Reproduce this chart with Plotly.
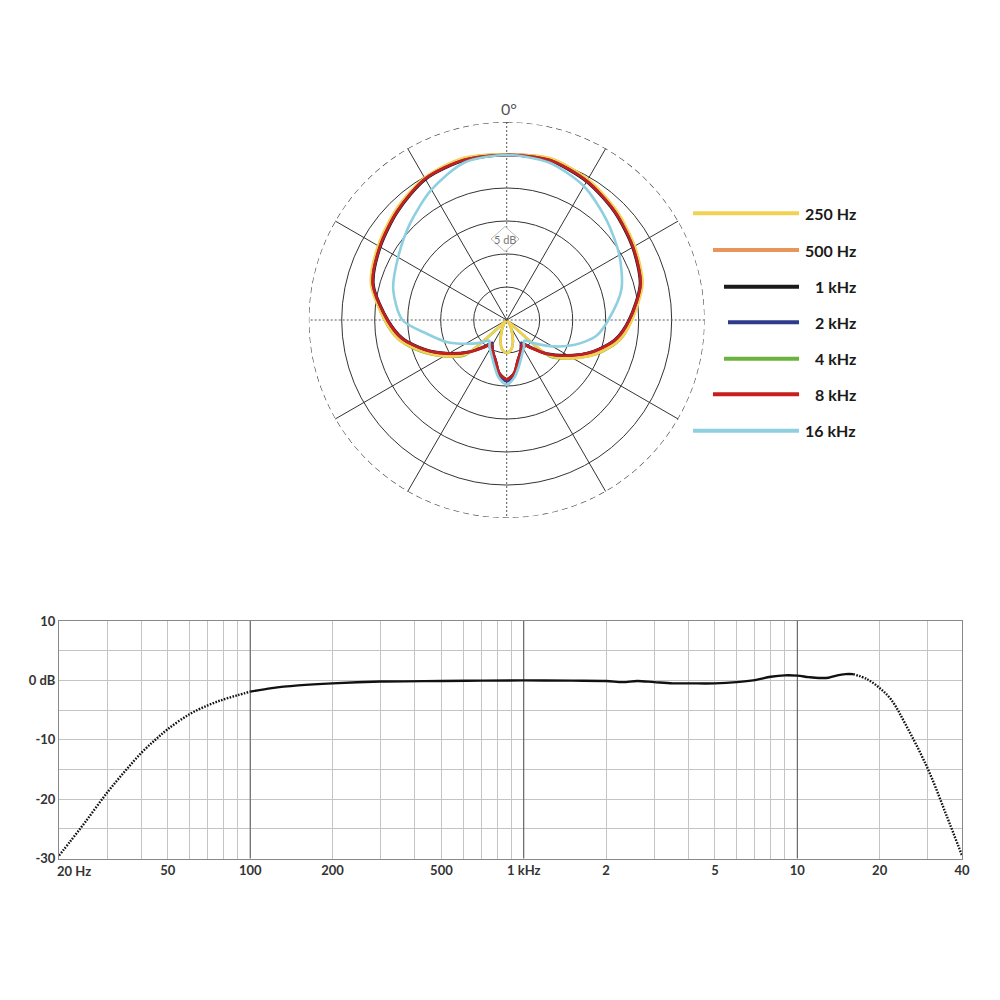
import numpy as np
import plotly.graph_objects as go

# ---------------- Polar pattern data (dB, 0 dB on axis) ----------------
THETA = [0, 15, 30, 45, 60, 75, 90, 100, 110, 120, 130, 140, 147, 155, 165, 172, 180,
         188, 195, 205, 213, 220, 230, 240, 250, 260, 270, 285, 300, 315, 330, 345, 360]

db_250 = [0, 0.4, -0.4, -1.5, -2.6, -3.7, -6.0, -7.6, -10.3, -13.4, -16.6, -24.7, -24.1, -23.2, -21.4, -20.4, -20.0,
          -20.4, -21.4, -23.2, -24.1, -24.7, -16.9, -14.0, -11.2, -8.3, -6.5, -3.7, -2.5, -1.3, -0.1, 0.4, 0.1]
db_500 = [0.1, 0.3, -0.5, -1.6, -2.7, -3.8, -6.2, -7.9, -10.7, -13.8, -16.8, -19.6, -20.7, -19.9, -18.6, -16.9, -16.0,
          -16.9, -18.6, -19.9, -20.7, -19.6, -17.2, -14.4, -11.5, -8.6, -6.7, -3.8, -2.6, -1.4, -0.2, 0.3, 0.1]
db_1k = [0, 0.0, -0.8, -1.9, -3.0, -4.1, -6.5, -8.3, -11.1, -14.3, -17.1, -19.6, -20.7, -19.9, -18.6, -16.9, -16.0,
         -16.9, -18.6, -19.9, -20.7, -19.6, -17.5, -14.9, -11.9, -9.0, -7.0, -4.1, -2.9, -1.7, -0.4, 0.0, 0]
db_2k = [0, 0.1, -0.7, -1.8, -2.9, -4.0, -6.4, -8.2, -11.0, -14.2, -17.0, -19.8, -20.9, -20.0, -18.3, -16.6, -15.7,
         -16.6, -18.3, -20.0, -20.9, -19.8, -17.4, -14.8, -11.8, -8.9, -6.9, -4.0, -2.8, -1.6, -0.3, 0.1, 0]
db_4k = [0, 0.1, -0.7, -1.8, -2.9, -4.0, -6.1, -7.6, -10.2, -13.4, -16.4, -24.5, -24.1, -23.2, -21.4, -20.4, -20.0,
         -20.4, -21.4, -23.2, -24.1, -24.5, -16.7, -14.0, -11.1, -8.3, -6.5, -4.0, -2.8, -1.6, -0.3, 0.1, 0]
db_8k = [0, 0.1, -0.7, -1.8, -2.9, -4.0, -6.4, -8.2, -11.0, -14.2, -17.0, -19.6, -20.7, -19.9, -18.6, -16.9, -16.0,
         -16.9, -18.6, -19.9, -20.7, -19.6, -17.4, -14.8, -11.8, -8.9, -6.9, -4.0, -2.8, -1.6, -0.3, 0.1, 0]
db_16k = [0, -0.3, -1.6, -3.6, -5.3, -7.0, -9.6, -11.2, -14.0, -17.0, -19.5, -20.9, -20.2, -19.4, -17.8, -16.3, -15.2,
          -16.2, -17.8, -19.4, -20.2, -20.9, -19.6, -17.8, -15.3, -12.8, -9.2, -7.2, -6.0, -4.3, -2.2, -0.3, 0]

SERIES_NAMES = ["250 Hz", "500 Hz", "1 kHz", "2 kHz", "4 kHz", "8 kHz", "16 kHz"]
SERIES_DATA = [db_250, db_500, db_1k, db_2k, db_4k, db_8k, db_16k]
SERIES_COLORS = ["#F3D152", "#E8955A", "#1A1A1A", "#2E3B8C", "#6CB33E", "#C81E1E", "#8ECFE0"]
DRAW_ORDER = [4, 1, 2, 0, 3, 5, 6]   # green, orange, black, yellow, navy, red, light blue

RING_DB = [-20, -15, -10, -5, 0]
SPOKES = [30, 60, 120, 150, 210, 240, 300, 330]

# ---------------- Frequency response data ----------------
freq = [20, 22, 25, 30, 35, 40, 45, 50, 60, 70, 80, 90, 100, 120, 150, 200, 300, 500, 700,
        1000, 1500, 2000, 2300, 2600, 3000, 3500, 4000, 5000, 6000, 7000, 8000, 9000, 10000,
        11000, 12000, 13000, 14000, 15000, 16000, 18000, 20000, 22000, 25000, 30000, 35000, 40000]
resp = [-29.5, -27.1, -23.8, -18.9, -15.2, -12.2, -10.0, -8.2, -5.7, -4.2, -3.2, -2.5, -1.9, -1.3, -0.85,
        -0.5, -0.2, -0.1, -0.05, 0.0, -0.05, -0.1, -0.3, -0.1, -0.3, -0.5, -0.5, -0.5, -0.3, 0.05,
        0.6, 0.85, 0.8, 0.55, 0.4, 0.45, 0.85, 1.05, 1.05, 0.2, -1.3, -3.2, -7.6, -14.9, -22.6, -29.5]

x_tickvals = [20, 50, 100, 200, 500, 1000, 2000, 5000, 10000, 20000, 40000]
x_ticktext = ["", "50", "100", "200", "500", "1 kHz", "2", "5", "10", "20", "40"]
x_minor = [30, 40, 60, 70, 80, 90, 300, 400, 600, 700, 800, 900, 3000, 4000, 6000, 7000, 8000, 9000, 30000]
decades = [100, 1000, 10000]
y_tickvals = [10, 5, 0, -5, -10, -15, -20, -25, -30]
y_ticktext = ["10", "", "0 dB", "", "-10", "", "-20", "", "-30"]

FONT = "Lato"


def px(x):
    return x / 1000.0


def py(y):
    return 1 - y / 1000.0


fig = go.Figure()

# ---- polar grid helpers ----
circle_theta = list(range(0, 361, 2))
fig.add_trace(go.Scatterpolar(r=[5] * len(circle_theta), theta=circle_theta, mode="lines",
                              line=dict(color="#444", width=1.2, dash="6px,4px"),
                              hoverinfo="skip", showlegend=False))
for a in [0, 90]:
    fig.add_trace(go.Scatterpolar(r=[5, -25, 5], theta=[a, a, a + 180], mode="lines",
                                  line=dict(color="#555", width=1, dash="2px,2px"),
                                  hoverinfo="skip", showlegend=False))

for i in DRAW_ORDER:
    fig.add_trace(go.Scatterpolar(r=SERIES_DATA[i], theta=THETA, mode="lines", name=SERIES_NAMES[i],
                                  line=dict(color=SERIES_COLORS[i], width=2.6, shape="spline", smoothing=0.8),
                                  showlegend=False))

fig.update_layout(
    polar=dict(
        domain=dict(x=[px(308.7), px(704.7)], y=[py(518), py(122)]),
        bgcolor="white",
        radialaxis=dict(range=[-25, 5], tickvals=RING_DB, showticklabels=False, ticks="",
                        showline=False, gridcolor="#333", gridwidth=1.3),
        angularaxis=dict(rotation=90, direction="clockwise", tickvals=SPOKES,
                         showticklabels=False, ticks="", showline=False,
                         gridcolor="#333", gridwidth=1.2),
    )
)

# ---- frequency response ----
lo = [(f, r) for f, r in zip(freq, resp) if f <= 100]
mid = [(f, r) for f, r in zip(freq, resp) if 100 <= f <= 16000]
hi = [(f, r) for f, r in zip(freq, resp) if f >= 16000]

for d in decades:
    fig.add_trace(go.Scatter(x=[d, d], y=[-30, 10], mode="lines", line=dict(color="#555", width=1),
                             hoverinfo="skip", showlegend=False, xaxis="x", yaxis="y"))

fig.add_trace(go.Scatter(x=[p[0] for p in lo], y=[p[1] for p in lo], mode="lines",
                         line=dict(color="#111", width=2.4, dash="1.6px,1.4px", shape="spline"),
                         showlegend=False))
fig.add_trace(go.Scatter(x=[p[0] for p in mid], y=[p[1] for p in mid], mode="lines",
                         line=dict(color="#111", width=2.4, shape="spline"), showlegend=False))
fig.add_trace(go.Scatter(x=[p[0] for p in hi], y=[p[1] for p in hi], mode="lines",
                         line=dict(color="#111", width=2.4, dash="1.6px,1.4px", shape="spline"),
                         showlegend=False))

tickfont = dict(family=FONT, size=13, color="#333", weight="bold")
fig.update_layout(
    xaxis=dict(type="log", range=[np.log10(20), np.log10(40000)], domain=[px(59), px(962)],
               tickvals=x_tickvals, ticktext=x_ticktext, tickfont=tickfont, ticks="",
               showgrid=True, gridcolor="#c4c4c4", gridwidth=1, automargin=False,
               minor=dict(tickvals=x_minor, showgrid=True, gridcolor="#c4c4c4", gridwidth=1, ticks=""),
               showline=True, mirror=True, linecolor="#888", linewidth=1, zeroline=False,
               anchor="y"),
    yaxis=dict(range=[-30, 10], domain=[py(858.5), py(621)], tickvals=y_tickvals, ticktext=y_ticktext,
               tickfont=tickfont, ticks="", showgrid=True, gridcolor="#c4c4c4", gridwidth=1,
               showline=True, mirror=True, linecolor="#888", linewidth=1, zeroline=False,
               automargin=False, anchor="x"),
)

annotations = [
    dict(text="20 Hz", x=np.log10(20), xref="x", y=py(871), yref="paper", xanchor="left",
         yanchor="middle", xshift=-4, showarrow=False, font=tickfont),
    dict(text="0°", x=px(509), y=py(109), xref="paper", yref="paper", showarrow=False,
         xanchor="center", yanchor="middle", font=dict(family=FONT, size=16, color="#555")),
    dict(text="5 dB", x=px(505), y=py(239), xref="paper", yref="paper", showarrow=False,
         xanchor="center", yanchor="middle", font=dict(family=FONT, size=11, color="#777")),
]

shapes = [
    dict(type="path", xref="paper", yref="paper",
         path=f"M {px(491)} {py(239)} L {px(505)} {py(226.5)} L {px(519)} {py(239)} L {px(505)} {py(251.5)} Z",
         fillcolor="white", line=dict(color="#bbb", width=1), layer="above"),
]

# ---- legend (custom, lengths follow the circle) ----
legend_y = [213.3, 250, 286.7, 322.3, 358.7, 394.3, 430.7]
legend_x0 = [693, 713, 724, 728, 724, 713, 693]
for name, col, y, x0 in zip(SERIES_NAMES, SERIES_COLORS, legend_y, legend_x0):
    shapes.append(dict(type="line", xref="paper", yref="paper", x0=px(x0), x1=px(799),
                       y0=py(y), y1=py(y), line=dict(color=col, width=4)))
    annotations.append(dict(text=name, x=px(858), y=py(y), xref="paper", yref="paper",
                            xanchor="right", yanchor="middle", showarrow=False,
                            font=dict(family=FONT, size=16, color="#1a1a1a", weight="bold")))

fig.update_layout(
    width=1000, height=1000, margin=dict(l=0, r=0, t=0, b=0, pad=0), autosize=False,
    paper_bgcolor="white", plot_bgcolor="white",
    annotations=annotations, shapes=shapes, showlegend=False,
)

fig.write_html("out.html")
